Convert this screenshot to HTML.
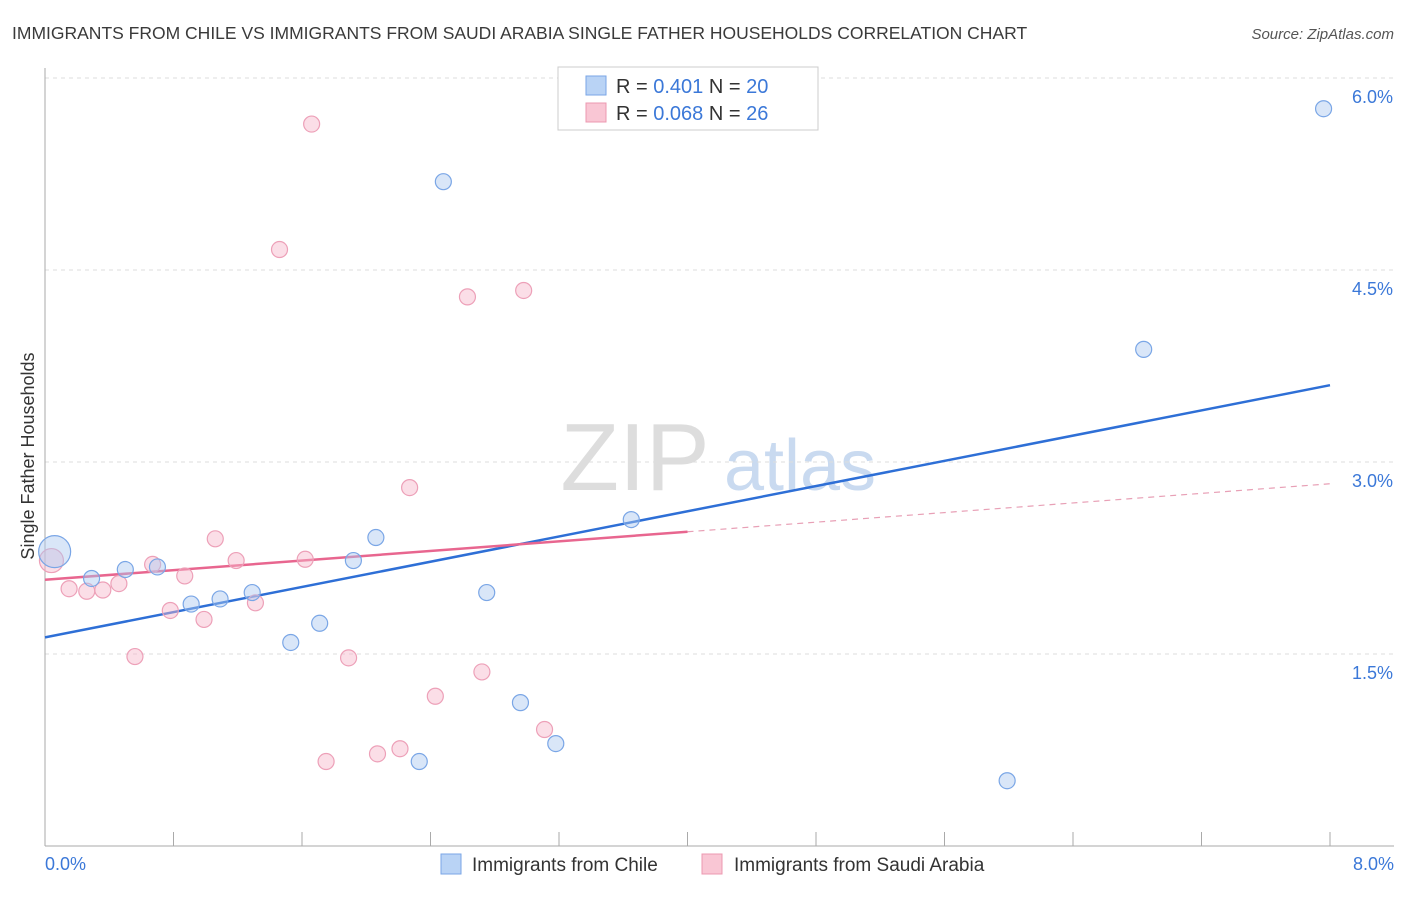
<!DOCTYPE html>
<html><head><meta charset="utf-8"><style>
body{margin:0;background:#fff;font-family:"Liberation Sans",sans-serif}
svg text{font-family:"Liberation Sans",sans-serif}
</style></head><body>
<svg id="c" width="1406" height="892" xmlns="http://www.w3.org/2000/svg">
<text x="12" y="39" font-size="17.5" fill="#3a3a3a">IMMIGRANTS FROM CHILE VS IMMIGRANTS FROM SAUDI ARABIA SINGLE FATHER HOUSEHOLDS CORRELATION CHART</text>
<text x="1394" y="39" font-size="15" fill="#555" font-style="italic" text-anchor="end">Source: ZipAtlas.com</text>
<text x="34" y="456" font-size="18" fill="#333" text-anchor="middle" transform="rotate(-90 34 456)">Single Father Households</text>
<g><text x="635" y="490" font-size="96" fill="#ddd" font-family="Liberation Serif" text-anchor="middle">ZIP</text><text x="800" y="490" font-size="72" fill="#c9daf0" text-anchor="middle">atlas</text></g>
<g id="grid"></g><g id="axes"></g><g id="trend"></g><g id="pts"></g>
<g>
<rect x="558" y="67" width="260" height="63" fill="#fff" stroke="#ccc"/>
<rect x="586" y="76" width="20" height="19" fill="#b9d3f5" stroke="#7aa6e6"/>
<rect x="586" y="103" width="20" height="19" fill="#f9c6d4" stroke="#ec98b0"/>
<text x="616" y="93" font-size="20" fill="#333">R = <tspan fill="#3b78d8">0.401</tspan>   N = <tspan fill="#3b78d8">20</tspan></text>
<text x="616" y="120" font-size="20" fill="#333">R = <tspan fill="#3b78d8">0.068</tspan>   N = <tspan fill="#3b78d8">26</tspan></text>
</g>
<g>
<rect x="441" y="854" width="20" height="20" fill="#b9d3f5" stroke="#7aa6e6"/>
<text x="472" y="871" font-size="19" fill="#333">Immigrants from Chile</text>
<rect x="702" y="854" width="20" height="20" fill="#f9c6d4" stroke="#ec98b0"/>
<text x="734" y="871" font-size="19" fill="#333">Immigrants from Saudi Arabia</text>
</g>
</svg>
<script>
const chileX=[0.06,0.29,0.50,0.70,0.91,1.09,1.29,1.53,1.71,1.92,2.06,2.33,2.48,2.75,2.96,3.18,3.65,5.99,6.84,7.96];
const chileY=[2.30,2.09,2.16,2.18,1.89,1.93,1.98,1.59,1.74,2.23,2.41,0.66,5.19,1.98,1.12,0.80,2.55,0.51,3.88,5.76];
const saudiX=[0.04,0.15,0.26,0.36,0.46,0.56,0.67,0.78,0.87,0.99,1.06,1.19,1.31,1.46,1.62,1.66,1.75,1.89,2.07,2.21,2.27,2.43,2.63,2.72,2.98,3.11];
const saudiY=[2.23,2.01,1.99,2.00,2.05,1.48,2.20,1.84,2.11,1.77,2.40,2.23,1.90,4.66,2.24,5.64,0.66,1.47,0.72,0.76,2.80,1.17,4.29,1.36,4.34,0.91];
const chileTrend=[1.63,3.60];
const saudiTrend=[2.08,2.83];
const yTicks=[1.5,3.0,4.5,6.0];
const xTickLabels=["0.0%","8.0%"];
const NS="http://www.w3.org/2000/svg";
const X=v=>45+v*1285/8, Y=v=>846-v*128;
function mk(t,a,p){const e=document.createElementNS(NS,t);for(const k in a)e.setAttribute(k,a[k]);p.appendChild(e);return e;}
const grid=document.getElementById('grid'),axes=document.getElementById('axes'),tr=document.getElementById('trend'),pts=document.getElementById('pts');
yTicks.forEach(t=>{const l=mk('line',{x1:45,x2:1394,y1:Y(t),y2:Y(t),stroke:'#ddd','stroke-dasharray':'4 4'},grid);


const tx=mk('text',{x:1393,y:Y(t)+25,'font-size':18,fill:'#3b78d8','text-anchor':'end'},axes);tx.textContent=t.toFixed(1)+'%';

});
const ax=mk('line',{x1:45,x2:45,y1:68,y2:846,stroke:'#aaa'},axes);


const bx=mk('line',{x1:45,x2:1394,y1:846,y2:846,stroke:'#aaa'},axes);


for(let i=0;i<=10;i++){const tk=mk('line',{x1:X(i*0.8),x2:X(i*0.8),y1:832,y2:846,stroke:'#aaa'},axes);

}
[[0,'start',45],[8,'end',1394]].forEach((d,i)=>{const t=mk('text',{x:d[2],y:870,'font-size':18,fill:'#3b78d8','text-anchor':d[1]},axes);t.textContent=xTickLabels[i];

});
function pt(x,y,r,f,s,n){const c=mk('circle',{cx:X(x),cy:Y(y),r:r,fill:f,stroke:s,'stroke-width':1.2},pts);

}
saudiX.forEach((x,i)=>pt(x,saudiY[i],i==0?12:8,'rgba(247,182,202,0.45)','#eda0b8','saudi-point'));
chileX.forEach((x,i)=>pt(x,chileY[i],i==0?16:8,'rgba(170,200,240,0.45)','#7aa6e6','chile-point'));
const lb=mk('line',{x1:X(0),y1:Y(chileTrend[0]),x2:X(8),y2:Y(chileTrend[1]),stroke:'#2e6fd6','stroke-width':2.5},tr);


const sm=v=>saudiTrend[0]+(saudiTrend[1]-saudiTrend[0])*v/8;
const ls=mk('line',{x1:X(0),y1:Y(sm(0)),x2:X(4),y2:Y(sm(4)),stroke:'#e8668f','stroke-width':2.5},tr);


const ld=mk('line',{x1:X(4),y1:Y(sm(4)),x2:X(8),y2:Y(sm(8)),stroke:'#e8a0b6','stroke-width':1.2,'stroke-dasharray':'6 5'},tr);


</script>
</body></html>
